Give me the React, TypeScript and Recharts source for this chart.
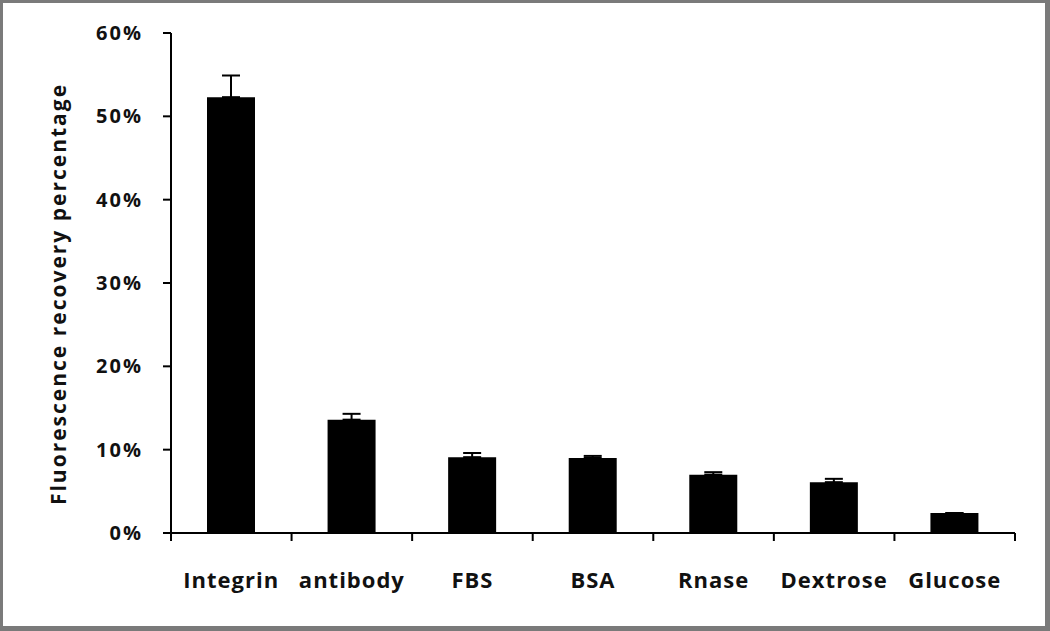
import React from "react";
import {
  BarChart,
  Bar,
  XAxis,
  YAxis,
  ErrorBar,
  Label,
} from "recharts";

const categories = ["Integrin", "antibody", "FBS", "BSA", "Rnase", "Dextrose", "Glucose"];
const recovery = [52.3, 13.6, 9.1, 9.0, 7.0, 6.1, 2.4];
const upperError = [2.6, 0.7, 0.5, 0.25, 0.3, 0.4, 0];
const yTicks = [0, 10, 20, 30, 40, 50, 60];
const boundaryTicks = [0, 1, 2, 3, 4, 5, 6, 7];

const data = categories.map((name, i) => ({
  name,
  value: recovery[i],
  err: [0, upperError[i]],
  pos: i + 0.5,
}));

const FONT = "'Open Sans', 'DejaVu Sans', sans-serif";

const App = () => {
  return (
    <div
      style={{
        position: "absolute",
        left: 0,
        top: 0,
        width: 1050,
        height: 631,
        background: "#fff",
      }}
    >
      <BarChart
        width={1050}
        height={631}
        data={data}
        margin={{ top: 33, right: 35, left: 0, bottom: 0 }}
        barSize={48}
      >
        <XAxis
          xAxisId="bounds"
          type="number"
          dataKey="pos"
          domain={[0, 7]}
          ticks={boundaryTicks}
          allowDataOverflow
          height={12}
          tickSize={8}
          tickFormatter={() => ""}
          axisLine={{ stroke: "#000", strokeWidth: 2 }}
          tickLine={{ stroke: "#000", strokeWidth: 2 }}
        />
        <XAxis
          xAxisId="cat"
          dataKey="name"
          height={86}
          axisLine={false}
          tickLine={false}
          tickSize={0}
          tickMargin={27}
          interval={0}
          tick={{
            fill: "#111",
            fontSize: 22,
            fontWeight: 700,
            fontFamily: FONT,
            letterSpacing: 1,
          }}
        />
        <YAxis
          domain={[0, 60]}
          ticks={yTicks}
          width={171}
          tickSize={8}
          tickMargin={20}
          tickFormatter={(v: number) => `${v}%`}
          axisLine={{ stroke: "#000", strokeWidth: 2 }}
          tickLine={{ stroke: "#000", strokeWidth: 2 }}
          tick={{
            fill: "#111",
            fontSize: 20,
            fontWeight: 700,
            fontFamily: FONT,
            letterSpacing: 2,
          }}
        >
          <Label
            content={() => (
              <text
                x={66}
                y={294}
                transform="rotate(-90, 66, 294)"
                textAnchor="middle"
                fill="#111"
                fontSize={21}
                fontWeight={700}
                fontFamily={FONT}
                letterSpacing={2}
              >
                Fluorescence recovery percentage
              </text>
            )}
          />
        </YAxis>
        <Bar
          xAxisId="cat"
          dataKey="value"
          fill="#000"
          isAnimationActive={false}
        >
          <ErrorBar
            dataKey="err"
            direction="y"
            width={9}
            stroke="#000"
            strokeWidth={2}
          />
        </Bar>
      </BarChart>
      <div
        style={{
          position: "absolute",
          left: 0,
          top: 0,
          width: 1050,
          height: 631,
          boxSizing: "border-box",
          borderStyle: "solid",
          borderColor: "#7a7a7a",
          borderWidth: "3px 5px 5px 3px",
          pointerEvents: "none",
        }}
      />
    </div>
  );
};

export default App;
